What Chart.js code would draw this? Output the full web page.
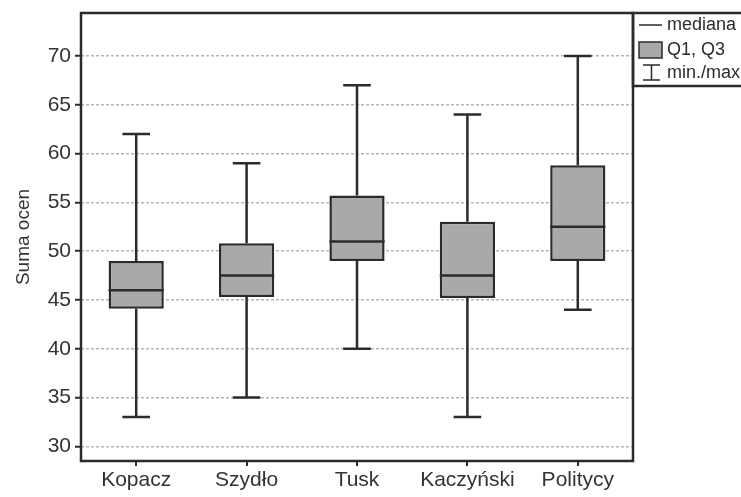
<!DOCTYPE html>
<html>
<head>
<meta charset="utf-8">
<script src="https://cdn.jsdelivr.net/npm/chart.js@4/dist/chart.umd.min.js"></script>
<style>
  html, body { margin: 0; padding: 0; background: #fff; }
  #wrap { width: 741px; height: 497px; }
</style>
</head>
<body>
<div id="wrap"><canvas id="chart-area" width="741" height="497"></canvas></div>
<script>
  'use strict';

  var categories = ['Kopacz', 'Szydło', 'Tusk', 'Kaczyński', 'Politycy'];
  var minValues = [33, 35, 40, 33, 44];
  var q1Values = [44.1, 45.3, 49, 45.2, 49];
  var medianValues = [46, 47.5, 51, 47.5, 52.5];
  var q3Values = [49, 50.8, 55.7, 53, 58.8];
  var maxValues = [62, 59, 67, 64, 70];
  var yTicks = [30, 35, 40, 45, 50, 55, 60, 65, 70];

  var ink = '#2b2b2b';
  var boxFill = '#a9a9a9';
  var fontFamily = '"Liberation Sans", Arial, sans-serif';

  // whiskers + median lines, drawn through the chart scales
  var boxExtras = {
    id: 'boxExtras',
    afterDatasetsDraw: function (chart) {
      var ctx = chart.ctx;
      var x = chart.scales.x, y = chart.scales.y;
      var meta = chart.getDatasetMeta(0);
      ctx.save();
      ctx.strokeStyle = ink;
      ctx.lineWidth = 2.5;
      ctx.lineCap = 'butt';
      categories.forEach(function (c, i) {
        var cx = x.getPixelForValue(i);
        var bw = meta.data[i].width;
        var cap = bw / 2;
        ctx.beginPath();
        ctx.moveTo(cx, y.getPixelForValue(q1Values[i]));
        ctx.lineTo(cx, y.getPixelForValue(minValues[i]));
        ctx.moveTo(cx - cap / 2, y.getPixelForValue(minValues[i]));
        ctx.lineTo(cx + cap / 2, y.getPixelForValue(minValues[i]));
        ctx.moveTo(cx, y.getPixelForValue(q3Values[i]));
        ctx.lineTo(cx, y.getPixelForValue(maxValues[i]));
        ctx.moveTo(cx - cap / 2, y.getPixelForValue(maxValues[i]));
        ctx.lineTo(cx + cap / 2, y.getPixelForValue(maxValues[i]));
        ctx.moveTo(cx - bw / 2, y.getPixelForValue(medianValues[i]));
        ctx.lineTo(cx + bw / 2, y.getPixelForValue(medianValues[i]));
        ctx.stroke();
      });
      ctx.restore();
    },
    afterDraw: function (chart) {
      var ctx = chart.ctx;
      var a = chart.chartArea;
      ctx.save();
      // plot frame
      ctx.strokeStyle = ink;
      ctx.lineWidth = 2.5;
      ctx.strokeRect(a.left, a.top, a.right - a.left, a.bottom - a.top);

      // legend box at the right of the plot
      var lx = a.right, ly = a.top;
      var lw = chart.width - a.right + 2, lh = 73;
      ctx.strokeRect(lx, ly, lw, lh);
      ctx.font = '18px ' + fontFamily;
      ctx.fillStyle = ink;
      ctx.textBaseline = 'middle';
      var tx = lx + 34;
      // mediana
      ctx.lineWidth = 1.5;
      ctx.beginPath();
      ctx.moveTo(lx + 6, ly + 12);
      ctx.lineTo(lx + 29, ly + 12);
      ctx.stroke();
      ctx.fillText('mediana', tx, ly + 12);
      // Q1, Q3
      ctx.fillStyle = boxFill;
      ctx.fillRect(lx + 6, ly + 29, 23, 16);
      ctx.strokeRect(lx + 6, ly + 29, 23, 16);
      ctx.fillStyle = ink;
      ctx.fillText('Q1, Q3', tx, ly + 37);
      // min./max.
      ctx.beginPath();
      ctx.moveTo(lx + 10, ly + 52); ctx.lineTo(lx + 27, ly + 52);
      ctx.moveTo(lx + 18.5, ly + 52); ctx.lineTo(lx + 18.5, ly + 67);
      ctx.moveTo(lx + 10, ly + 67); ctx.lineTo(lx + 27, ly + 67);
      ctx.stroke();
      ctx.fillText('min./max.', tx, ly + 60);
      ctx.restore();
    }
  };

  var ctx = document.getElementById('chart-area').getContext('2d');
  window.myBox = new Chart(ctx, {
    type: 'bar',
    data: {
      labels: categories,
      datasets: [{
        label: 'Q1, Q3',
        data: categories.map(function (c, i) { return [q1Values[i], q3Values[i]]; }),
        backgroundColor: boxFill,
        borderColor: ink,
        borderWidth: 2.5,
        borderSkipped: false,
        barPercentage: 0.5,
        categoryPercentage: 1.0
      }]
    },
    options: {
      responsive: false,
      animation: false,
      layout: { padding: { top: 13, right: 108, left: 0, bottom: 0 } },
      plugins: {
        legend: { display: false },
        tooltip: { enabled: false }
      },
      scales: {
        x: {
          afterFit: function (s) { s.height = 36; s.paddingLeft = 0; s.paddingRight = 0; },
          grid: { display: true, offset: false, drawOnChartArea: false, drawTicks: true, tickLength: 5, color: ink, lineWidth: 2 },
          border: { display: false },
          ticks: { color: '#333', font: { family: fontFamily, size: 21 }, padding: 2 }
        },
        y: {
          min: 28.5,
          max: 74.4,
          afterFit: function (s) { s.width = 81; s.paddingTop = 0; s.paddingBottom = 0; },
          afterBuildTicks: function (s) { s.ticks = yTicks.map(function (v) { return { value: v }; }); },
          grid: { color: '#b5b5b5', lineWidth: 1.5, tickColor: ink, tickLength: 6, tickWidth: 2 },
          border: { display: false, dash: [3, 2] },
          ticks: { color: '#333', font: { family: fontFamily, size: 21 }, padding: 4 },
          title: { display: true, text: 'Suma ocen', color: '#333', font: { family: fontFamily, size: 19 }, padding: { top: 12, bottom: 0 } }
        }
      }
    },
    plugins: [boxExtras]
  });
</script>
</body>
</html>
